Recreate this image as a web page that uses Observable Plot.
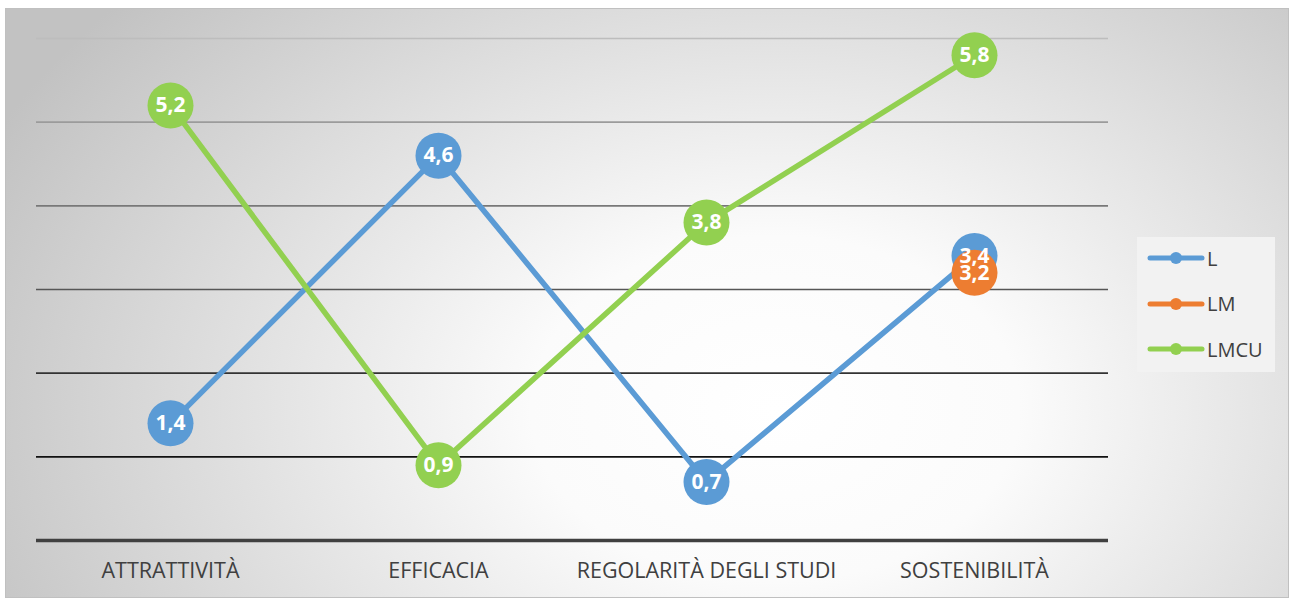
<!DOCTYPE html>
<html>
<head>
<meta charset="utf-8">
<script src="https://cdn.jsdelivr.net/npm/d3@7"></script>
<script src="https://cdn.jsdelivr.net/npm/@observablehq/plot@0.6"></script>
<style>
  html, body { margin: 0; padding: 0; background: #fff; }
  #wrap { position: relative; width: 1292px; height: 599px; overflow: hidden; }
  #frame {
    position: absolute; left: 5px; top: 8px; width: 1284px; height: 590px;
    border: 1px solid #c0c0c0; box-sizing: border-box;
    background: radial-gradient(ellipse 68% 105% at 60% 68%, #ffffff 0%, #fbfbfb 28%, #c2c2c2 100%);
  }
  #plot { position: absolute; left: 0; top: 0; }
  #legend {
    position: absolute; left: 1137px; top: 237px; width: 138px; height: 135px;
    background: #f2f2f2; font-family: "Open Sans", sans-serif; font-size: 20px; color: #404040;
  }
  .item { position: absolute; left: 10px; height: 24px; display: flex; align-items: center; }
  .item svg { margin-right: 2px; }
</style>
</head>
<body>
<div id="wrap">
  <div id="frame"></div>
  <div id="plot"></div>
  <div id="legend"></div>
</div>
<script>
const categories = ["ATTRATTIVITÀ", "EFFICACIA", "REGOLARITÀ DEGLI STUDI", "SOSTENIBILITÀ"];
const seriesNames = ["L", "LM", "LMCU"];
const L = [1.4, 4.6, 0.7, 3.4];
const LM = [null, null, null, 3.2];
const LMCU = [5.2, 0.9, 3.8, 5.8];
const gridValues = [1, 2, 3, 4, 5, 6];

const seriesValues = {L, LM, LMCU};
const colors = {L: "#5b9bd5", LM: "#ed7d31", LMCU: "#92d050"};

const fmt = v => d3.format(".1f")(v).replace(".", ",");
const gridColor = v => d3.interpolateRgb("#111111", "#bdbdbd")((v - 1) / 5);

const marks = [];
for (const v of gridValues) {
  marks.push(Plot.ruleY([v], {stroke: gridColor(v), strokeWidth: 1.6}));
}
marks.push(Plot.ruleY([0], {stroke: "#404040", strokeWidth: 3.5}));

for (const s of seriesNames) {
  const rows = categories.map((c, i) => ({cat: c, value: seriesValues[s][i]})).filter(d => d.value != null);
  marks.push(Plot.line(rows, {x: "cat", y: "value", stroke: colors[s], strokeWidth: 5.5, strokeLinecap: "round"}));
  marks.push(Plot.dot(rows, {x: "cat", y: "value", r: 23, fill: colors[s], stroke: "none"}));
}
for (const s of seriesNames) {
  const rows = categories.map((c, i) => ({cat: c, value: seriesValues[s][i]})).filter(d => d.value != null);
  marks.push(Plot.text(rows, {x: "cat", y: "value", text: d => fmt(d.value), fill: "white", fontWeight: "bold", fontSize: 21}));
}
marks.push(Plot.axisX({tickSize: 0, tickPadding: 22, fontSize: 21.5, color: "#404040"}));

const chart = Plot.plot({
  width: 1292,
  height: 599,
  marginLeft: 36,
  marginRight: 184,
  marginTop: 38,
  marginBottom: 59,
  style: {background: "transparent", fontFamily: "'Open Sans', sans-serif", color: "#404040", overflow: "visible"},
  x: {type: "point", domain: categories, padding: 0.5, label: null},
  y: {domain: [0, 6], axis: null},
  marks
});
document.getElementById("plot").appendChild(chart);

const legend = document.getElementById("legend");
seriesNames.forEach((s, i) => {
  const div = document.createElement("div");
  div.className = "item";
  div.style.top = (9 + i * 45.5) + "px";
  div.innerHTML = `<svg width="58" height="14"><line x1="3" y1="7" x2="55" y2="7" stroke="${colors[s]}" stroke-width="5" stroke-linecap="round"/><circle cx="29" cy="7" r="6" fill="${colors[s]}"/></svg><span>${s}</span>`;
  legend.appendChild(div);
});
</script>
</body>
</html>
